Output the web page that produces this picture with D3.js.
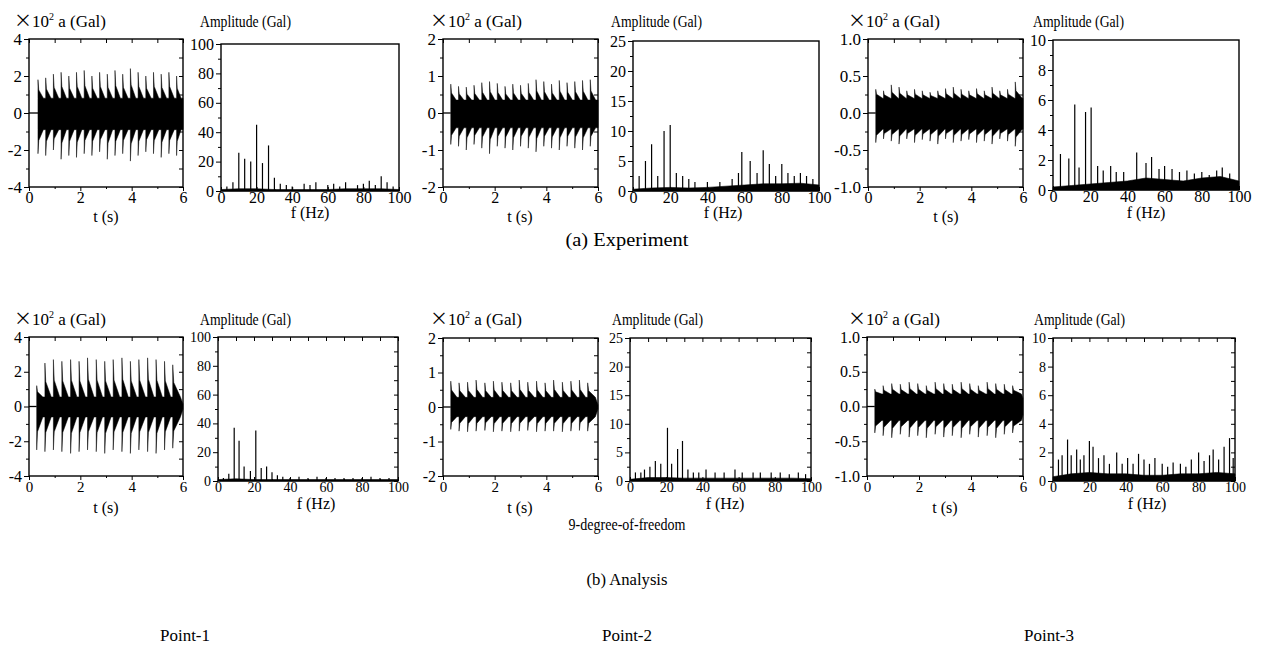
<!DOCTYPE html>
<html>
<head>
<meta charset="utf-8">
<script src="https://cdn.jsdelivr.net/npm/d3@7"></script>
<style>
  body { margin: 0; background: #fff; }
  svg text { font-family: "Liberation Serif", "Times New Roman", serif; fill: #000; }
</style>
</head>
<body>
<svg id="chart" width="1261" height="654"></svg>
<script>
// ---- tick labels ----
const timeTicks = [0, 2, 4, 6];
const timeMinor = [1, 3, 5];
const freqTicks = [0, 20, 40, 60, 80, 100];
const freqMinor = [10, 30, 50, 70, 90];
const accTicks = [[-4, -2, 0, 2, 4], [-2, -1, 0, 1, 2], [-1.0, -0.5, 0.0, 0.5, 1.0]];
const accMinor = [[-3, -1, 1, 3], [-1.5, -0.5, 0.5, 1.5], [-0.75, -0.25, 0.25, 0.75]];
const ampTicks = [[0, 20, 40, 60, 80, 100], [0, 5, 10, 15, 20, 25], [0, 2, 4, 6, 8, 10]];
const ampMinor = [[10, 30, 50, 70, 90], [2.5, 7.5, 12.5, 17.5, 22.5], [1, 3, 5, 7, 9]];

// ---- acceleration time histories (x10^2 Gal): burst times, peaks, troughs ----
const exp1Times = [0.35, 0.65, 0.95, 1.25, 1.55, 1.85, 2.15, 2.45, 2.75, 3.05, 3.35, 3.65, 3.95, 4.25, 4.55, 4.85, 5.15, 5.45, 5.75];
const exp1Up = [1.8, 1.9, 2.1, 2.2, 2.0, 2.2, 2.3, 2.0, 2.2, 2.1, 2.3, 2.1, 2.4, 2.2, 2.0, 2.2, 2.1, 2.2, 2.0];
const exp1Dn = [-2.2, -2.3, -2.0, -2.5, -2.3, -2.4, -2.2, -2.3, -2.1, -2.5, -2.3, -2.2, -2.6, -2.3, -2.1, -2.2, -2.4, -2.2, -2.3];

const exp2Times = [0.3, 0.6, 0.9, 1.2, 1.5, 1.8, 2.1, 2.4, 2.7, 3.0, 3.3, 3.6, 3.9, 4.2, 4.5, 4.8, 5.1, 5.4, 5.7];
const exp2Up = [0.78, 0.72, 0.7, 0.75, 0.82, 0.85, 0.8, 0.72, 0.78, 0.75, 0.8, 0.9, 0.85, 0.78, 0.88, 0.82, 0.85, 0.88, 0.9];
const exp2Dn = [-0.85, -0.9, -1.0, -0.85, -0.95, -1.1, -0.9, -0.95, -1.0, -0.9, -0.95, -1.05, -0.9, -0.95, -1.0, -0.9, -0.95, -1.0, -0.9];

const exp3Times = [0.3, 0.6, 0.9, 1.2, 1.5, 1.8, 2.1, 2.4, 2.7, 3.0, 3.3, 3.6, 3.9, 4.2, 4.5, 4.8, 5.1, 5.4, 5.7];
const exp3Up = [0.32, 0.3, 0.38, 0.35, 0.3, 0.32, 0.3, 0.28, 0.3, 0.33, 0.35, 0.32, 0.3, 0.33, 0.3, 0.35, 0.3, 0.32, 0.42];
const exp3Dn = [-0.4, -0.35, -0.38, -0.42, -0.35, -0.4, -0.36, -0.38, -0.42, -0.35, -0.4, -0.38, -0.36, -0.4, -0.38, -0.42, -0.35, -0.38, -0.45];

const ana1Times = [0.3, 0.62, 0.95, 1.28, 1.62, 1.95, 2.28, 2.62, 2.95, 3.28, 3.62, 3.95, 4.28, 4.62, 4.95, 5.28, 5.6];
const ana1Up = [1.2, 2.5, 2.7, 2.6, 2.7, 2.6, 2.8, 2.7, 2.6, 2.7, 2.8, 2.6, 2.7, 2.8, 2.7, 2.6, 2.4];
const ana1Dn = [-2.5, -2.6, -2.5, -2.6, -2.7, -2.6, -2.5, -2.6, -2.7, -2.5, -2.6, -2.7, -2.5, -2.6, -2.7, -2.5, -2.4];

const ana2Times = [0.3, 0.62, 0.95, 1.28, 1.62, 1.95, 2.28, 2.62, 2.95, 3.28, 3.62, 3.95, 4.28, 4.62, 4.95, 5.28, 5.6];
const ana2Up = [0.75, 0.7, 0.72, 0.78, 0.7, 0.75, 0.72, 0.7, 0.78, 0.72, 0.75, 0.7, 0.78, 0.72, 0.75, 0.78, 0.7];
const ana2Dn = [-0.65, -0.7, -0.72, -0.7, -0.68, -0.72, -0.7, -0.72, -0.7, -0.68, -0.72, -0.7, -0.7, -0.72, -0.7, -0.68, -0.7];

const ana3Times = [0.3, 0.62, 0.95, 1.28, 1.62, 1.95, 2.28, 2.62, 2.95, 3.28, 3.62, 3.95, 4.28, 4.62, 4.95, 5.28, 5.6];
const ana3Up = [0.25, 0.3, 0.33, 0.32, 0.35, 0.33, 0.3, 0.35, 0.33, 0.32, 0.35, 0.33, 0.3, 0.35, 0.33, 0.32, 0.3];
const ana3Dn = [-0.38, -0.42, -0.45, -0.4, -0.44, -0.42, -0.45, -0.4, -0.44, -0.42, -0.45, -0.4, -0.44, -0.42, -0.45, -0.4, -0.38];

// level between bursts [upper, lower], level at t = 6 s, start of record
const coreLevels = [[0.8, -0.9], [0.35, -0.4], [0.2, -0.22], [0.55, -0.6], [0.28, -0.28], [0.18, -0.2]];
const endLevels = [[0.8, -0.9], [0.35, -0.4], [0.2, -0.22], [0.15, -0.15], [0.06, -0.06], [0.12, -0.12]];
const startTimes = [0.35, 0.3, 0.3, 0.3, 0.3, 0.3];

// ---- Fourier amplitude spectra (Gal): [frequency Hz, amplitude] ----
const exp1Spikes = [[3.3, 3], [6.7, 6], [10, 26], [13.3, 22], [16.7, 20], [20, 45], [23.3, 19], [26.7, 31], [30, 9], [33.3, 5], [36.7, 4], [40, 3], [46.7, 5], [50, 4], [53.3, 6], [60, 4], [63.3, 5], [66.7, 3], [70, 6], [76.7, 4], [80, 5], [83.3, 7], [86.7, 4], [90, 10], [93.3, 6], [96.7, 3]];
const exp2Spikes = [[3.3, 2.5], [6.7, 5], [10, 7.8], [13.3, 2.5], [16.7, 10], [20, 11], [23.3, 3], [26.7, 2.5], [30, 2], [33.3, 1.5], [40, 1.5], [46.7, 1.5], [53.3, 2], [56.7, 3], [58.5, 6.5], [63, 5], [66.7, 3], [70, 6.8], [73.3, 4.5], [76.7, 2.5], [80, 4.5], [83.3, 3], [86.7, 2.5], [90, 3], [93.3, 2.5], [96.7, 2]];
const exp3Spikes = [[4, 2.4], [8.5, 2.1], [11.7, 5.7], [14, 1.5], [17.5, 5.2], [20.5, 5.5], [24, 1.6], [27, 1.3], [31, 1.6], [34, 1.2], [38, 1.2], [45, 2.5], [50, 1.8], [53, 2.2], [57, 1.4], [60, 1.6], [64, 1.4], [68, 1.2], [72, 1.3], [76, 1.1], [80, 1.2], [84, 1.0], [88, 1.3], [91, 1.5], [95, 1.1]];
const ana1Spikes = [[3, 2], [6, 5], [9, 37], [11.7, 28], [14.5, 10], [18, 7], [21, 35], [24, 9], [27, 10], [30, 6], [33, 4], [36, 3], [40, 2], [45, 3], [50, 2], [55, 3], [60, 2], [65, 2], [70, 2], [75, 2], [80, 2], [85, 3], [90, 2], [95, 2]];
const ana2Spikes = [[3, 1.5], [6, 1.5], [8, 2], [11, 2.5], [14, 3.5], [17, 3], [20.7, 9.3], [23, 3], [26.3, 5.6], [29, 7], [32, 2], [35, 1.5], [38, 1.5], [42, 2], [47, 1.5], [52, 1.5], [58, 2], [62, 1.5], [68, 1.5], [72, 1.5], [78, 1.5], [83, 1.5], [88, 1.2], [93, 1.5], [97, 1.2]];
const ana3Spikes = [[3, 1.5], [5, 1.8], [8, 2.9], [10, 1.8], [13, 2.2], [15, 1.5], [17, 1.8], [20, 2.8], [22, 2.4], [25, 1.6], [28, 1.8], [31, 1.2], [35, 2.0], [38, 1.2], [41, 1.6], [44, 1.2], [47, 1.9], [50, 1.5], [53, 1.2], [56, 1.6], [60, 1.2], [63, 1.0], [66, 1.3], [70, 1.2], [73, 1.0], [76, 1.5], [80, 2.0], [83, 1.4], [86, 1.8], [88, 2.2], [91, 1.5], [94, 2.4], [97, 3.0], [99, 1.6]];

// noise floor at every 10 Hz
const floorFreqs = [0, 10, 20, 30, 40, 50, 60, 70, 80, 90, 100];
const exp1Floor = [1, 1.5, 1.5, 1, 1, 1, 1, 1.5, 1.5, 1.5, 1];
const exp2Floor = [0.3, 0.5, 0.6, 0.5, 0.6, 0.8, 1.0, 1.2, 1.2, 1.3, 1.0];
const exp3Floor = [0.2, 0.3, 0.4, 0.5, 0.6, 0.8, 0.7, 0.6, 0.8, 0.9, 0.6];
const ana1Floor = [1, 1.5, 1, 1, 1, 1, 1, 1, 1, 1, 1];
const ana2Floor = [0.3, 0.6, 0.6, 0.5, 0.5, 0.5, 0.5, 0.5, 0.5, 0.5, 0.4];
const ana3Floor = [0.3, 0.5, 0.6, 0.5, 0.5, 0.4, 0.4, 0.5, 0.5, 0.6, 0.5];

const svg = d3.select("#chart");
const FONT = "Liberation Serif";
const fmtInt = d => String(d);
const fmt1 = d => d.toFixed(1);

// panel boxes (pixels)
const timePanels = [
  { x0: 29, x1: 183, y0: 39, y1: 187, k: 0, times: exp1Times, up: exp1Up, dn: exp1Dn, fmt: fmtInt, fs: 17, decay: 0.7 },
  { x0: 443, x1: 598, y0: 39, y1: 187, k: 1, times: exp2Times, up: exp2Up, dn: exp2Dn, fmt: fmtInt, fs: 17, decay: 0.7 },
  { x0: 868, x1: 1023, y0: 39, y1: 187, k: 2, times: exp3Times, up: exp3Up, dn: exp3Dn, fmt: fmt1, fs: 17, decay: 0.9 },
  { x0: 29, x1: 183, y0: 337, y1: 476, k: 0, times: ana1Times, up: ana1Up, dn: ana1Dn, fmt: fmtInt, fs: 16, decay: 0.75 },
  { x0: 443, x1: 598, y0: 338, y1: 476, k: 1, times: ana2Times, up: ana2Up, dn: ana2Dn, fmt: fmtInt, fs: 16, decay: 0.75 },
  { x0: 867, x1: 1023, y0: 337, y1: 476, k: 2, times: ana3Times, up: ana3Up, dn: ana3Dn, fmt: fmt1, fs: 16, decay: 0.85 }
];
const specPanels = [
  { x0: 221, x1: 399, y0: 44, y1: 191, k: 0, spikes: exp1Spikes, floor: exp1Floor, mirror: false, fs: 16 },
  { x0: 633, x1: 819, y0: 41, y1: 191, k: 1, spikes: exp2Spikes, floor: exp2Floor, mirror: false, fs: 16 },
  { x0: 1053, x1: 1239, y0: 40, y1: 190, k: 2, spikes: exp3Spikes, floor: exp3Floor, mirror: false, fs: 16 },
  { x0: 218, x1: 398, y0: 337, y1: 481, k: 0, spikes: ana1Spikes, floor: ana1Floor, mirror: true, fs: 14 },
  { x0: 630, x1: 811, y0: 338, y1: 481, k: 1, spikes: ana2Spikes, floor: ana2Floor, mirror: true, fs: 14 },
  { x0: 1053, x1: 1235, y0: 338, y1: 481, k: 2, spikes: ana3Spikes, floor: ana3Floor, mirror: true, fs: 14 }
];

function styleAxis(sel, fs) {
  sel.attr("font-family", FONT).attr("font-size", fs || 16);
  sel.select(".domain").remove();
  sel.selectAll("line").attr("stroke", "#000").attr("stroke-width", 1);
  sel.selectAll("text").attr("fill", "#000");
}

function drawFrame(p, x, y, o) {
  const g = svg.append("g");
  g.append("g").attr("transform", `translate(${p.x0},0)`)
    .call(d3.axisLeft(y).tickValues(o.yMajor).tickSize(5).tickPadding(2).tickFormat(o.yFmt)).call(styleAxis, p.fs);
  g.append("g").attr("transform", `translate(${p.x0},0)`)
    .call(d3.axisLeft(y).tickValues(o.yMinor).tickSize(3).tickFormat("")).call(styleAxis);
  g.append("g").attr("transform", `translate(0,${p.y1})`)
    .call(d3.axisBottom(x).tickValues(o.xMajor).tickSize(o.xTick).tickPadding(o.xPad).tickFormat(fmtInt)).call(styleAxis, o.xfs);
  g.append("g").attr("transform", `translate(0,${p.y1})`)
    .call(d3.axisBottom(x).tickValues(o.xMinor).tickSize(o.xTick / 2).tickFormat("")).call(styleAxis);
  if (o.mirror) {
    g.append("g").attr("transform", `translate(0,${p.y0})`)
      .call(d3.axisTop(x).tickValues(o.xMajor.concat(o.xMinor)).tickSize(-4).tickFormat("")).call(styleAxis);
    g.append("g").attr("transform", `translate(${p.x1},0)`)
      .call(d3.axisRight(y).tickValues(o.yMajor.concat(o.yMinor)).tickSize(-4).tickFormat("")).call(styleAxis);
  }
  g.append("rect").attr("x", p.x0).attr("y", p.y0)
    .attr("width", p.x1 - p.x0).attr("height", p.y1 - p.y0)
    .attr("fill", "none").attr("stroke", "#000").attr("stroke-width", 1.4);
}

// one side of the record: sharp rise at each burst, decay back to the level between bursts
function envelope(times, peaks, core, endLevel, t0, decay) {
  const pts = [[t0, 0]];
  times.forEach((t, i) => {
    const tn = i < times.length - 1 ? times[i + 1] : 6;
    const gap = tn - t;
    pts.push([t, core], [t, peaks[i]],
      [t + 0.1 * gap, core + 0.45 * (peaks[i] - core)],
      [t + decay * gap, core]);
  });
  pts.push([6, endLevel]);
  return pts;
}

timePanels.forEach((p, idx) => {
  const lim = accTicks[p.k][4];
  const x = d3.scaleLinear().domain([0, 6]).range([p.x0, p.x1]);
  const y = d3.scaleLinear().domain([-lim, lim]).range([p.y1, p.y0]);
  const line = d3.line().x(d => x(d[0])).y(d => y(d[1]));
  const t0 = startTimes[idx];
  const core = coreLevels[idx], end = endLevels[idx];
  const upPts = envelope(p.times, p.up, core[0], end[0], t0, p.decay);
  const dnPts = envelope(p.times, p.dn, core[1], end[1], t0, p.decay);
  svg.append("path").attr("d", line([[0, 0], [t0, 0]]))
    .attr("fill", "none").attr("stroke", "#000").attr("stroke-width", 1.3);
  svg.append("path").attr("d", line(upPts.concat(dnPts.reverse())) + "Z")
    .attr("fill", "#000").attr("stroke", "#000").attr("stroke-width", 0.5);
  drawFrame(p, x, y, {
    yMajor: accTicks[p.k], yMinor: accMinor[p.k], yFmt: p.fmt,
    xMajor: timeTicks, xMinor: timeMinor, xfs: p.fs - 1, xTick: 4, xPad: 1, mirror: true
  });
});

specPanels.forEach(p => {
  const top = ampTicks[p.k][5];
  const x = d3.scaleLinear().domain([0, 100]).range([p.x0, p.x1]);
  const y = d3.scaleLinear().domain([0, top]).range([p.y1, p.y0]);
  const area = d3.area().x(d => x(d[0])).y0(y(0)).y1(d => y(d[1]));
  svg.append("path").datum(floorFreqs.map((f, i) => [f, p.floor[i]]))
    .attr("d", area).attr("fill", "#000").attr("stroke", "#000").attr("stroke-width", 0.6);
  svg.append("g").selectAll("line").data(p.spikes).join("line")
    .attr("x1", d => x(d[0])).attr("x2", d => x(d[0]))
    .attr("y1", y(0)).attr("y2", d => y(d[1]))
    .attr("stroke", "#000").attr("stroke-width", 1.2);
  drawFrame(p, x, y, {
    yMajor: ampTicks[p.k], yMinor: ampMinor[p.k], yFmt: fmtInt,
    xMajor: freqTicks, xMinor: freqMinor, xfs: p.fs, xTick: -4, xPad: 1, mirror: p.mirror
  });
});

// ---- text ----
function label(x, y, s, fs, anchor, len) {
  const t = svg.append("text").attr("x", x).attr("y", y)
    .attr("font-size", fs).attr("text-anchor", anchor || "middle").text(s);
  if (len) t.attr("textLength", len).attr("lengthAdjust", "spacingAndGlyphs");
  return t;
}
function accTitle(x, y) {
  const t = svg.append("text").attr("x", x).attr("y", y).attr("font-size", 17);
  t.append("tspan").attr("font-family", "Noto Sans CJK JP").attr("font-size", 18).text("×");
  t.append("tspan").text("10");
  t.append("tspan").attr("dy", -7).attr("font-size", 10).text("2");
  t.append("tspan").attr("dy", 7).text(" a (Gal)");
}

[[14, 27], [430, 27], [848, 27], [14, 325], [430, 325], [848, 325]].forEach(d => accTitle(d[0], d[1]));
[[200, 27], [611, 27], [1033, 27], [200, 325], [612, 325], [1034, 325]].forEach(d => label(d[0], d[1], "Amplitude (Gal)", 16, "start", 91));
[[106, 222], [520, 222], [946, 222], [106, 513], [520, 513], [945, 513]].forEach(d => label(d[0], d[1], "t (s)", 16));
[[310, 218], [723, 218], [1146, 218], [316, 509], [725, 509], [1147, 509]].forEach(d => label(d[0], d[1], "f (Hz)", 16));

label(627, 246, "(a) Experiment", 19, "middle", 123);
label(627, 530, "9-degree-of-freedom", 16, "middle", 117);
label(627, 585, "(b) Analysis", 16.5, "middle", 81);
label(185, 641, "Point-1", 17, "middle", 50);
label(627, 641, "Point-2", 17, "middle", 50);
label(1049, 641, "Point-3", 17, "middle", 50);
</script>
</body>
</html>
